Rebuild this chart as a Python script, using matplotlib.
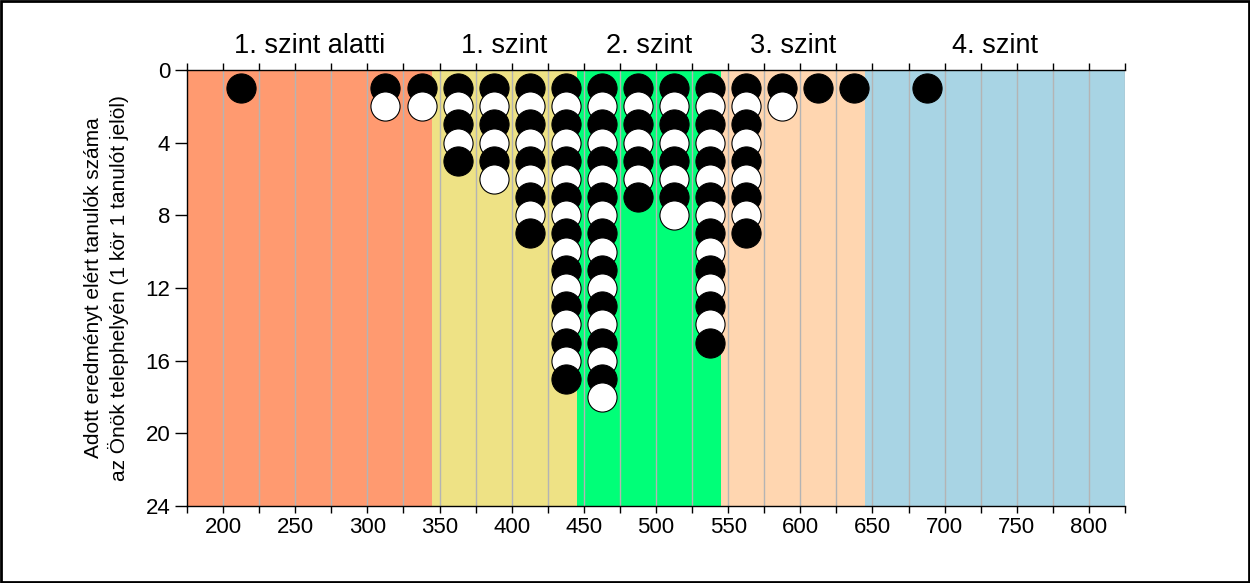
import matplotlib
matplotlib.use("Agg")
import matplotlib.pyplot as plt
from matplotlib.patches import Rectangle

plt.rcParams['font.family'] = ['Liberation Sans', 'DejaVu Sans']

# Data
score_bins = [212.5, 312.5, 337.5, 362.5, 387.5, 412.5, 437.5, 462.5,
              487.5, 512.5, 537.5, 562.5, 587.5, 612.5, 637.5, 687.5]
student_counts = [1, 2, 2, 5, 6, 9, 17, 18, 7, 8, 15, 9, 2, 1, 1, 1]

level_names = ["1. szint alatti", "1. szint", "2. szint", "3. szint", "4. szint"]
level_edges = [175, 345, 445, 545, 645, 825]
level_colors = ["#FF9A70", "#EEE285", "#00FF78", "#FFD6B0", "#A8D4E4"]

x_ticks = [200, 250, 300, 350, 400, 450, 500, 550, 600, 650, 700, 750, 800]
y_ticks = [0, 4, 8, 12, 16, 20, 24]

fig = plt.figure(figsize=(12.5, 5.83), dpi=100)
ax = fig.add_axes([0.1496, 0.132, 0.7504, 0.748])

ax.set_xlim(175, 825)
ax.set_ylim(24, 0)

# background bands
for i in range(len(level_names)):
    ax.add_patch(Rectangle((level_edges[i], 0), level_edges[i + 1] - level_edges[i], 24,
                           facecolor=level_colors[i], edgecolor='none', zorder=0))
    ax.text((level_edges[i] + level_edges[i + 1]) / 2, -0.6, level_names[i],
            ha='center', va='bottom', fontsize=19.5, transform=ax.transData)

# grid lines every 25
g = 200
while g <= 825:
    ax.axvline(g, color='#B4B4B4', lw=1.0, zorder=1)
    g += 25

# circles
for x, n in zip(score_bins, student_counts):
    for k in range(n):
        fc = 'black' if k % 2 == 0 else 'white'
        ax.scatter([x], [k + 1], s=440, facecolor=fc, edgecolor='black',
                   linewidth=0.8, zorder=3 + k)

ax.set_xticks(x_ticks)
ax.set_xticks([v + 25 for v in [150] + x_ticks], minor=True)
ax.set_yticks(y_ticks)
ax.tick_params(axis='x', which='both', direction='out', length=5, width=1,
               top=True, labelsize=16, pad=3)
ax.tick_params(axis='y', direction='out', length=9, width=1, labelsize=16, pad=3)

ax.spines['right'].set_visible(False)
for s in ['left', 'bottom', 'top']:
    ax.spines[s].set_linewidth(1.0)

ax.set_ylabel("Adott eredményt elért tanulók száma\naz Önök telephelyén (1 kör 1 tanulót jelöl)",
              fontsize=15, linespacing=1.3, labelpad=12)

# figure border
fig.patches.append(Rectangle((0.001, 0.002), 0.998, 0.996, transform=fig.transFigure,
                             fill=False, edgecolor='black', lw=2))

fig.savefig("out.png", dpi=100)
